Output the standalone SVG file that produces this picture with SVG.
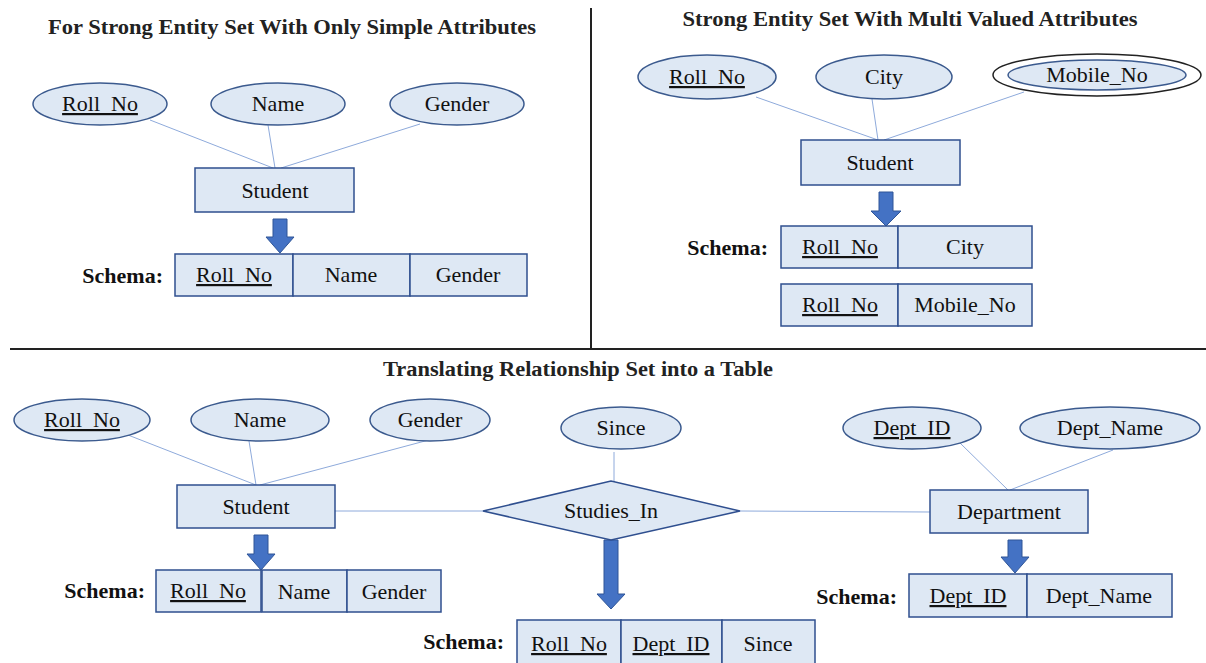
<svg xmlns="http://www.w3.org/2000/svg" width="1206" height="663" viewBox="0 0 1206 663">
  <style>
    .bg { fill: #ffffff; }
    .attr { fill: #dee8f4; stroke: #3b5a8e; stroke-width: 1.5; }
    .outer { fill: #ffffff; stroke: #222222; stroke-width: 1.5; }
    .ent { fill: #dee8f4; stroke: #2f4f8f; stroke-width: 1.5; }
    .cell { fill: #dee8f4; stroke: #2f4f8f; stroke-width: 1.5; }
    .link { fill: none; stroke: #8eaadb; stroke-width: 1; }
    .divider { stroke: #222222; stroke-width: 2; }
    .arrow { fill: #4472c4; stroke: #2f5597; stroke-width: 1; }
    .lbl { font-family: "Liberation Serif", "Times New Roman", serif; font-size: 22px; fill: #111111; text-anchor: middle; }
    .key { text-decoration: underline; }
    .title { font-family: "Liberation Serif", "Times New Roman", serif; font-size: 20px; font-weight: bold; fill: #222222; text-anchor: middle; }
    .schema { font-family: "Liberation Serif", "Times New Roman", serif; font-size: 22px; font-weight: bold; fill: #111111; text-anchor: end; }
  </style>

  <rect class="bg" x="0" y="0" width="1206" height="663"/>

  <!-- panel dividers -->
  <line class="divider" x1="591" y1="8" x2="591" y2="348"/>
  <line class="divider" x1="10" y1="349" x2="1206" y2="349"/>

  <!-- section titles -->
  <text class="title" x="292" y="34" textLength="488" lengthAdjust="spacingAndGlyphs">For Strong Entity Set With Only Simple Attributes</text>
  <text class="title" x="910" y="26" textLength="455" lengthAdjust="spacingAndGlyphs">Strong Entity Set With Multi Valued Attributes</text>
  <text class="title" x="578" y="376" textLength="390" lengthAdjust="spacingAndGlyphs">Translating Relationship Set into a Table</text>

  <!-- connectors -->
  <g id="connectors">
    <!-- top-left -->
    <line class="link" x1="150" y1="120" x2="273" y2="168"/>
    <line class="link" x1="268" y1="125" x2="275" y2="168"/>
    <line class="link" x1="420" y1="124" x2="281" y2="168"/>
    <!-- top-right -->
    <line class="link" x1="756" y1="97" x2="878" y2="140"/>
    <line class="link" x1="872" y1="99" x2="878" y2="140"/>
    <line class="link" x1="1024" y1="92" x2="884" y2="140"/>
    <!-- bottom -->
    <line class="link" x1="128" y1="435" x2="256" y2="485"/>
    <line class="link" x1="249" y1="441" x2="256" y2="485"/>
    <line class="link" x1="440" y1="437" x2="260" y2="485"/>
    <line class="link" x1="322" y1="511" x2="483" y2="511"/>
    <line class="link" x1="740" y1="511" x2="930" y2="512"/>
    <line class="link" x1="614" y1="452" x2="614" y2="482"/>
    <line class="link" x1="960" y1="443" x2="1008" y2="490"/>
    <line class="link" x1="1113" y1="450" x2="1010" y2="490"/>
    <!-- conversion arrows -->
    <polygon class="arrow" points="273,219 287,219 287,237 294,237 280,253 266,237 273,237"/>
    <polygon class="arrow" points="879,192 893,192 893,211 901,211 886,226 871,211 879,211"/>
    <polygon class="arrow" points="254,535 268,535 268,554 275,554 261,570 247,554 254,554"/>
    <polygon class="arrow" points="604,540 618,540 618,594 625,594 611,609 597,594 604,594"/>
    <polygon class="arrow" points="1008,540 1022,540 1022,557 1029,557 1015,573 1001,557 1008,557"/>
  </g>

  <!-- ===== top-left: simple attributes ===== -->
  <g id="tl-rollno">
    <ellipse class="attr" cx="100" cy="104" rx="67" ry="21"/>
    <text class="lbl key" x="100" y="111">Roll_No</text>
  </g>
  <g id="tl-name">
    <ellipse class="attr" cx="278" cy="104" rx="67" ry="21"/>
    <text class="lbl" x="278" y="111">Name</text>
  </g>
  <g id="tl-gender">
    <ellipse class="attr" cx="457" cy="104" rx="67" ry="21"/>
    <text class="lbl" x="457" y="111">Gender</text>
  </g>
  <g id="tl-student">
    <rect class="ent" x="195" y="168" width="159" height="44"/>
    <text class="lbl" x="275" y="198">Student</text>
  </g>
  <g id="tl-schema">
    <text class="schema" x="163" y="283">Schema:</text>
    <rect class="cell" x="175" y="254" width="118" height="42"/>
    <rect class="cell" x="293" y="254" width="117" height="42"/>
    <rect class="cell" x="410" y="254" width="117" height="42"/>
    <text class="lbl key" x="234" y="282">Roll_No</text>
    <text class="lbl" x="351" y="282">Name</text>
    <text class="lbl" x="468" y="282">Gender</text>
  </g>

  <!-- ===== top-right: multivalued attribute ===== -->
  <g id="tr-rollno">
    <ellipse class="attr" cx="707" cy="77" rx="69" ry="22"/>
    <text class="lbl key" x="707" y="84">Roll_No</text>
  </g>
  <g id="tr-city">
    <ellipse class="attr" cx="884" cy="77" rx="68" ry="22"/>
    <text class="lbl" x="884" y="84">City</text>
  </g>
  <g id="tr-mobile">
    <ellipse class="outer" cx="1097" cy="75" rx="104" ry="21"/>
    <ellipse class="attr" cx="1097" cy="75" rx="89" ry="15"/>
    <text class="lbl" x="1097" y="82">Mobile_No</text>
  </g>
  <g id="tr-student">
    <rect class="ent" x="801" y="140" width="159" height="45"/>
    <text class="lbl" x="880" y="170">Student</text>
  </g>
  <g id="tr-schema">
    <text class="schema" x="768" y="255">Schema:</text>
    <rect class="cell" x="781" y="226" width="117" height="42"/>
    <rect class="cell" x="898" y="226" width="134" height="42"/>
    <text class="lbl key" x="840" y="254">Roll_No</text>
    <text class="lbl" x="965" y="254">City</text>
    <rect class="cell" x="781" y="284" width="117" height="42"/>
    <rect class="cell" x="898" y="284" width="134" height="42"/>
    <text class="lbl key" x="840" y="312">Roll_No</text>
    <text class="lbl" x="965" y="312">Mobile_No</text>
  </g>

  <!-- ===== bottom: relationship set ===== -->
  <g id="b-rollno">
    <ellipse class="attr" cx="82" cy="420" rx="68" ry="21"/>
    <text class="lbl key" x="82" y="427">Roll_No</text>
  </g>
  <g id="b-name">
    <ellipse class="attr" cx="260" cy="420" rx="69" ry="21"/>
    <text class="lbl" x="260" y="427">Name</text>
  </g>
  <g id="b-gender">
    <ellipse class="attr" cx="430" cy="420" rx="60" ry="21"/>
    <text class="lbl" x="430" y="427">Gender</text>
  </g>
  <g id="b-since">
    <ellipse class="attr" cx="621" cy="428" rx="60" ry="21"/>
    <text class="lbl" x="621" y="435">Since</text>
  </g>
  <g id="b-deptid">
    <ellipse class="attr" cx="912" cy="428" rx="69" ry="21"/>
    <text class="lbl key" x="912" y="435">Dept_ID</text>
  </g>
  <g id="b-deptname">
    <ellipse class="attr" cx="1110" cy="428" rx="90" ry="21"/>
    <text class="lbl" x="1110" y="435">Dept_Name</text>
  </g>
  <g id="b-student">
    <rect class="ent" x="177" y="485" width="158" height="43"/>
    <text class="lbl" x="256" y="514">Student</text>
  </g>
  <g id="b-studies-in">
    <polygon class="ent" points="483,511 611,481 740,511 611,540"/>
    <text class="lbl" x="611" y="518">Studies_In</text>
  </g>
  <g id="b-department">
    <rect class="ent" x="930" y="490" width="158" height="43"/>
    <text class="lbl" x="1009" y="519">Department</text>
  </g>
  <g id="b-student-schema">
    <text class="schema" x="145" y="598">Schema:</text>
    <rect class="cell" x="156" y="570" width="105" height="42"/>
    <rect class="cell" x="262" y="570" width="85" height="42"/>
    <rect class="cell" x="347" y="570" width="94" height="42"/>
    <text class="lbl key" x="208" y="598">Roll_No</text>
    <text class="lbl" x="304" y="599">Name</text>
    <text class="lbl" x="394" y="599">Gender</text>
  </g>
  <g id="b-rel-schema">
    <text class="schema" x="504" y="649">Schema:</text>
    <rect class="cell" x="517" y="620" width="104" height="46"/>
    <rect class="cell" x="621" y="620" width="101" height="46"/>
    <rect class="cell" x="722" y="620" width="93" height="46"/>
    <text class="lbl key" x="569" y="651">Roll_No</text>
    <text class="lbl key" x="671" y="651">Dept_ID</text>
    <text class="lbl" x="768" y="651">Since</text>
  </g>
  <g id="b-dept-schema">
    <text class="schema" x="897" y="604">Schema:</text>
    <rect class="cell" x="909" y="574" width="118" height="43"/>
    <rect class="cell" x="1027" y="574" width="145" height="43"/>
    <text class="lbl key" x="968" y="603">Dept_ID</text>
    <text class="lbl" x="1099" y="603">Dept_Name</text>
  </g>
</svg>
